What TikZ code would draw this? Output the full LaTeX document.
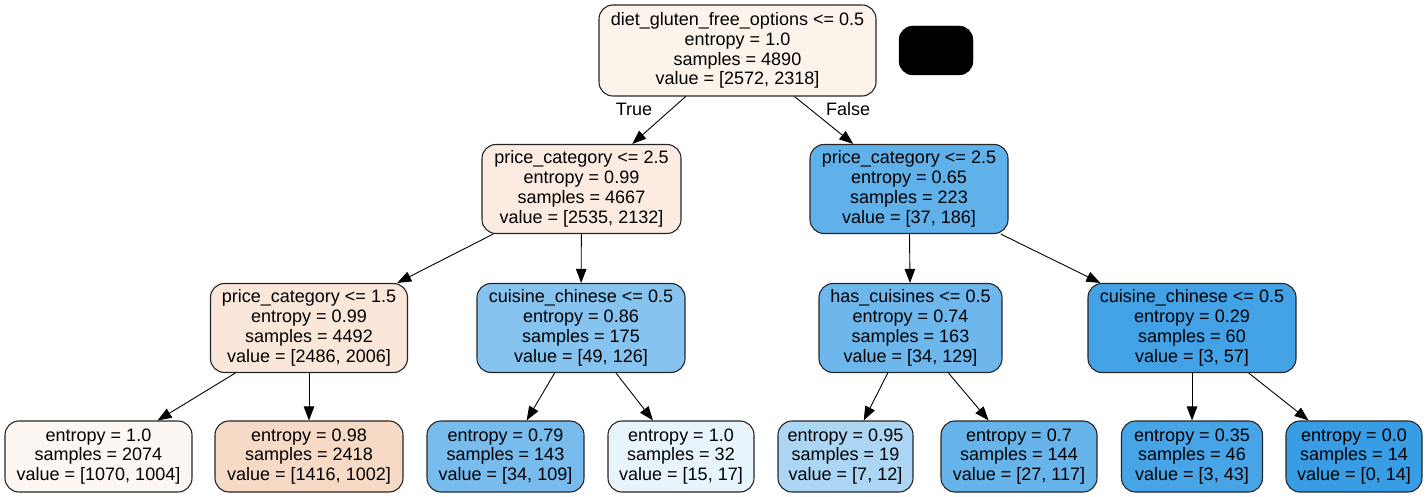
\documentclass[tikz,border=0pt]{standalone}
\usepackage{fontspec}
\setmainfont{Liberation Sans}
\usetikzlibrary{arrows.meta}
\definecolor{n0}{RGB}{252,243,235}
\definecolor{n1}{RGB}{251,235,224}
\definecolor{n2}{RGB}{96,177,234}
\definecolor{n3}{RGB}{250,231,217}
\definecolor{n4}{RGB}{134,195,239}
\definecolor{n5}{RGB}{109,183,236}
\definecolor{n6}{RGB}{67,162,230}
\definecolor{l1}{RGB}{253,247,243}
\definecolor{l2}{RGB}{247,218,197}
\definecolor{l3}{RGB}{119,188,237}
\definecolor{l4}{RGB}{232,244,252}
\definecolor{l5}{RGB}{172,214,244}
\definecolor{l6}{RGB}{103,180,235}
\definecolor{l7}{RGB}{71,164,231}
\definecolor{l8}{RGB}{57,157,229}
\tikzset{
  treebox/.style={draw=black!85, line width=1.1pt, rounded corners=14pt, align=center,
    inner sep=0pt, font=\fontsize{18}{19.8}\selectfont},
  splitbox/.style={treebox, minimum height=89pt},
  leafbox/.style={treebox, minimum height=71pt},
  edge/.style={draw=black, line width=0.9pt, -{Triangle[length=14pt,width=10.5pt]}},
  edgelabel/.style={font=\fontsize{18}{19.8}\selectfont, inner sep=0pt}
}
\begin{document}
\begin{tikzpicture}[x=1pt,y=-1pt]
\useasboundingbox (0,0) rectangle (1427,497);
\node[splitbox, fill=n0, minimum width=277pt, minimum height=91pt] (root) at (737.5,50.5)
  {diet\_gluten\_free\_options <= 0.5\\entropy = 1.0\\samples = 4890\\value = [2572, 2318]};
\node[draw=black, fill=black, rounded corners=14pt, minimum width=74pt, minimum height=49pt, inner sep=0pt] (legend) at (936,50.5) {};
\node[splitbox, fill=n1, minimum width=199pt] (a) at (581.5,189)
  {price\_category <= 2.5\\entropy = 0.99\\samples = 4667\\value = [2535, 2132]};
\node[splitbox, fill=n2, minimum width=198pt] (b) at (909,189)
  {price\_category <= 2.5\\entropy = 0.65\\samples = 223\\value = [37, 186]};
\node[splitbox, fill=n3, minimum width=197pt] (aa) at (309,328)
  {price\_category <= 1.5\\entropy = 0.99\\samples = 4492\\value = [2486, 2006]};
\node[splitbox, fill=n4, minimum width=208pt] (ab) at (581,328)
  {cuisine\_chinese <= 0.5\\entropy = 0.86\\samples = 175\\value = [49, 126]};
\node[splitbox, fill=n5, minimum width=183pt] (ba) at (910.5,328)
  {has\_cuisines <= 0.5\\entropy = 0.74\\samples = 163\\value = [34, 129]};
\node[splitbox, fill=n6, minimum width=208pt] (bb) at (1192,328)
  {cuisine\_chinese <= 0.5\\entropy = 0.29\\samples = 60\\value = [3, 57]};
\node[leafbox, fill=l1, minimum width=187pt] (x1) at (98.5,456.5)
  {entropy = 1.0\\samples = 2074\\value = [1070, 1004]};
\node[leafbox, fill=l2, minimum width=188pt] (x2) at (309,456.5)
  {entropy = 0.98\\samples = 2418\\value = [1416, 1002]};
\node[leafbox, fill=l3, minimum width=157pt] (x3) at (505.5,456.5)
  {entropy = 0.79\\samples = 143\\value = [34, 109]};
\node[leafbox, fill=l4, minimum width=146pt] (x4) at (681,456.5)
  {entropy = 1.0\\samples = 32\\value = [15, 17]};
\node[leafbox, fill=l5, minimum width=135pt] (x5) at (845.5,456.5)
  {entropy = 0.95\\samples = 19\\value = [7, 12]};
\node[leafbox, fill=l6, minimum width=156pt] (x6) at (1019,456.5)
  {entropy = 0.7\\samples = 144\\value = [27, 117]};
\node[leafbox, fill=l7, minimum width=141pt] (x7) at (1192,456.5)
  {entropy = 0.35\\samples = 46\\value = [3, 43]};
\node[leafbox, fill=l8, minimum width=136pt] (x8) at (1354,456.5)
  {entropy = 0.0\\samples = 14\\value = [0, 14]};
\draw[edge] (root) -- (a);
\draw[edge] (root) -- (b);
\draw[edge] (a) -- (aa);
\draw[edge] (a) -- (ab);
\draw[edge] (b) -- (ba);
\draw[edge] (b) -- (bb);
\draw[edge] (aa) -- (x1);
\draw[edge] (aa) -- (x2);
\draw[edge] (ab) -- (x3);
\draw[edge] (ab) -- (x4);
\draw[edge] (ba) -- (x5);
\draw[edge] (ba) -- (x6);
\draw[edge] (bb) -- (x7);
\draw[edge] (bb) -- (x8);
\node[edgelabel] (truelbl) at (634,109) {True};
\node[edgelabel] (falselbl) at (848,109) {False};
\end{tikzpicture}
\end{document}
